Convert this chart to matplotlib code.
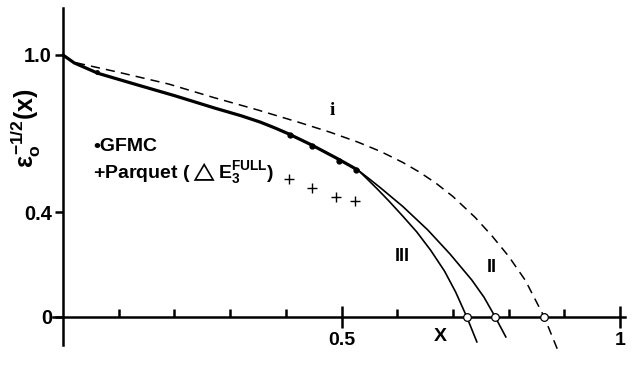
import numpy as np
import matplotlib
matplotlib.use('Agg')
import matplotlib.pyplot as plt
from matplotlib.ticker import FixedLocator

plt.rcParams['font.family'] = ['Liberation Sans', 'DejaVu Sans']
plt.rcParams['font.weight'] = 'bold'
plt.rcParams['mathtext.fontset'] = 'custom'
plt.rcParams['mathtext.rm'] = 'Liberation Sans:bold'
plt.rcParams['mathtext.it'] = 'Liberation Sans:bold'
plt.rcParams['mathtext.bf'] = 'Liberation Sans:bold'

# common part of the solid curves (bold)
common_x = [0.0, 0.02, 0.063, 0.135, 0.2, 0.273, 0.32, 0.354, 0.38, 0.404,
            0.447, 0.494, 0.53]
common_y = [1.0, 0.97, 0.93, 0.885, 0.845, 0.797, 0.768, 0.744, 0.722, 0.700,
            0.656, 0.603, 0.56]

# branch III
iii_x = [0.53, 0.546, 0.565, 0.585, 0.61, 0.635, 0.66, 0.685, 0.705, 0.725, 0.743]
iii_y = [0.56, 0.527, 0.487, 0.443, 0.385, 0.325, 0.255, 0.175, 0.095, 0.0, -0.095]

# branch II
ii_x = [0.53, 0.55, 0.57, 0.61, 0.655, 0.695, 0.734, 0.756, 0.776, 0.795]
ii_y = [0.56, 0.527, 0.493, 0.422, 0.332, 0.24, 0.141, 0.075, 0.0, -0.076]

# curve i (dashed)
i_x = [0.0, 0.02, 0.1, 0.19, 0.27, 0.35, 0.425, 0.48, 0.53, 0.57, 0.61, 0.64,
       0.67, 0.70, 0.74, 0.77, 0.80, 0.83, 0.864, 0.888]
i_y = [1.0, 0.972, 0.934, 0.889, 0.838, 0.79, 0.742, 0.705, 0.667, 0.632, 0.59,
       0.553, 0.51, 0.46, 0.38, 0.31, 0.232, 0.14, 0.0, -0.125]

# GFMC points
gfmc_x = [0.061, 0.407, 0.447, 0.496, 0.526]
gfmc_y = [0.935, 0.695, 0.653, 0.597, 0.561]

# Parquet points
parq_x = [0.406, 0.447, 0.490, 0.524]
parq_y = [0.527, 0.492, 0.458, 0.443]

# zero crossings
zero_x = [0.725, 0.776, 0.864]
zero_y = [0.0, 0.0, 0.0]

fig = plt.figure(figsize=(6.34, 3.69), dpi=100)
ax = fig.add_axes([0, 0, 1, 1])
ax.set_xlim(-63 / 557, (634 - 63) / 557)
ax.set_ylim((317 - 369) / 262, 317 / 262)
ax.patch.set_alpha(0)

ax.plot(common_x, common_y, color='black', lw=2.3, solid_capstyle='round')
ax.plot(iii_x, iii_y, color='black', lw=1.2)
ax.plot(ii_x, ii_y, color='black', lw=1.2)
ax.plot(i_x, i_y, color='black', lw=1.1, dashes=(6, 4))
ax.plot(gfmc_x[:1], gfmc_y[:1], 'o', color='black', ms=2.5)
ax.plot(gfmc_x[1:], gfmc_y[1:], 'o', color='black', ms=3.5)
ax.plot(parq_x, parq_y, '+', color='black', ms=7, mew=1.0)
ax.plot(zero_x, zero_y, 'o', mfc='white', mec='black', ms=5.5, mew=0.9, zorder=5)

# axes through the origin
for s in ['top', 'right']:
    ax.spines[s].set_visible(False)
ax.spines['left'].set_position(('data', 0))
ax.spines['bottom'].set_position(('data', 0))
ax.spines['left'].set_bounds(-0.107, 1.18)
ax.spines['bottom'].set_bounds(-0.018, 1.009)
ax.spines['left'].set_linewidth(1.8)
ax.spines['bottom'].set_linewidth(1.8)

ax.set_xticks([0.5, 1.0])
ax.set_xticklabels(['0.5', '1'])
ax.xaxis.set_minor_locator(FixedLocator([0.1, 0.2, 0.3, 0.4, 0.6, 0.7, 0.8, 0.9]))
ax.tick_params(axis='x', which='major', direction='inout', length=16, width=1.8,
               labelsize=14, pad=3)
ax.tick_params(axis='x', which='minor', direction='in', length=6, width=1.8)

ax.set_yticks([0, 0.4, 1.0])
ax.set_yticklabels(['0', '0.4', '1.0'])
ax.tick_params(axis='y', which='major', direction='out', length=6, width=1.8,
               labelsize=14.5, pad=2)
for lab in ax.get_xticklabels() + ax.get_yticklabels():
    lab.set_fontweight('bold')

ax.text(0.677, -0.075, 'X', fontsize=14, fontweight='bold', ha='center', va='center')

ax.text(-0.066, 0.72, r'$\varepsilon_o^{-1/2}(x)$', fontsize=18, rotation=90,
        ha='center', va='center')

ax.text(0.055, 0.652, '\u2022GFMC', fontsize=14, fontweight='bold', ha='left', va='center')
ax.text(0.054, 0.552, r'+Parquet ($\triangle$E$_3^{\mathrm{FULL}}$)', fontsize=14,
        fontweight='bold', ha='left', va='center')

ax.text(0.484, 0.79, 'i', fontsize=14, fontweight='bold', family='Liberation Serif',
        ha='center', va='center')
ax.text(0.609, 0.23, 'III', fontsize=13, fontweight='bold', ha='center', va='center')
ax.text(0.77, 0.19, 'II', fontsize=13, fontweight='bold', ha='center', va='center')

fig.savefig('out.png', dpi=100)
